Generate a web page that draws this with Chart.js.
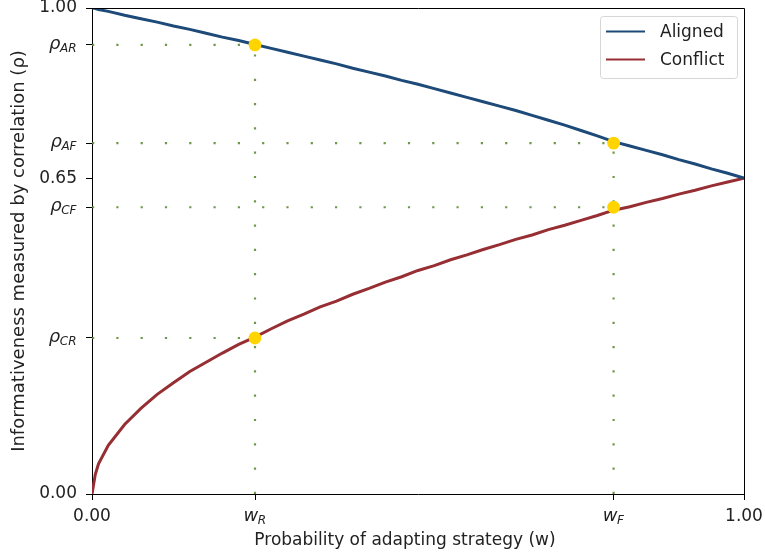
<!DOCTYPE html>
<html>
<head>
<meta charset="utf-8">
<script src="https://cdn.jsdelivr.net/npm/chart.js@4.4.1/dist/chart.umd.min.js"></script>
<style>
  html, body { margin: 0; padding: 0; background: #fff; }
  #wrap { position: relative; width: 765px; height: 557px; }
</style>
</head>
<body>
<div id="wrap"><canvas id="c" width="765" height="557"></canvas></div>
<script>
// ---- data ----
const wValues = [0, 0.005, 0.01, 0.025, 0.05, 0.075, 0.1, 0.125, 0.15, 0.175, 0.2, 0.225, 0.25, 0.275, 0.3, 0.325, 0.35, 0.375, 0.4, 0.425, 0.45, 0.475, 0.5, 0.525, 0.55, 0.575, 0.6, 0.625, 0.65, 0.675, 0.7, 0.725, 0.75, 0.775, 0.8, 0.825, 0.85, 0.875, 0.9, 0.925, 0.95, 0.975, 1.0];
const alignedRho = [1.000, 0.999, 0.997, 0.993, 0.985, 0.978, 0.971, 0.963, 0.956, 0.948, 0.940, 0.933, 0.925, 0.917, 0.909, 0.901, 0.893, 0.885, 0.876, 0.868, 0.860, 0.851, 0.843, 0.834, 0.825, 0.816, 0.807, 0.798, 0.789, 0.779, 0.769, 0.759, 0.748, 0.737, 0.725, 0.716, 0.707, 0.698, 0.688, 0.679, 0.669, 0.660, 0.650];
const conflictRho = [0.000, 0.040, 0.062, 0.100, 0.143, 0.176, 0.205, 0.229, 0.252, 0.271, 0.290, 0.308, 0.323, 0.340, 0.356, 0.370, 0.385, 0.397, 0.411, 0.423, 0.436, 0.447, 0.460, 0.470, 0.482, 0.492, 0.503, 0.513, 0.524, 0.533, 0.544, 0.553, 0.563, 0.573, 0.584, 0.591, 0.600, 0.608, 0.617, 0.625, 0.634, 0.642, 0.650];

// marked points (w, rho)
const markW   = [0.25, 0.80, 0.80, 0.25];
const markRho = [0.924, 0.722, 0.590, 0.321];

// ticks
const xTickValues = [0, 0.25, 0.80, 1.0];
const xTickLabels = ['0.00', 'w_R', 'w_F', '1.00'];
const yTickValues = [0, 0.321, 0.590, 0.65, 0.722, 0.924, 1.0];
const yTickLabels = ['0.00', 'ρ_CR', 'ρ_CF', '0.65', 'ρ_AF', 'ρ_AR', '1.00'];

const xTitle = 'Probability of adapting strategy (w)';
const yTitle = 'Informativeness measured by correlation (ρ)';
const seriesNames = ['Aligned', 'Conflict'];
const seriesColors = ['#1d4a78', '#962e33'];
const FONT = "'DejaVu Sans', sans-serif";
const TEXT = '#222';

// ---- build datasets ----
const toPts = (xs, ys) => xs.map((x, i) => ({ x: x, y: ys[i] }));
const guideColor = 'rgba(95,140,55,0.9)';
const guides = [];
for (let i = 0; i < markW.length; i++) {
  guides.push([{ x: 0, y: markRho[i] }, { x: markW[i], y: markRho[i] }]);
}
[0.25, 0.80].forEach(w => {
  const top = Math.max(...markRho.filter((r, i) => markW[i] === w));
  guides.push([{ x: w, y: 0 }, { x: w, y: top }]);
});

const datasets = [];
guides.forEach(g => datasets.push({
  label: '_guide', data: g, borderColor: guideColor, borderWidth: 2.2,
  borderDash: [2.2, 22.1], borderCapStyle: 'butt', pointRadius: 0, fill: false, order: 3
}));
datasets.push({
  label: seriesNames[0], data: toPts(wValues, alignedRho), borderColor: seriesColors[0],
  borderWidth: 3, pointRadius: 0, tension: 0, fill: false, order: 2
});
datasets.push({
  label: seriesNames[1], data: toPts(wValues, conflictRho), borderColor: seriesColors[1],
  borderWidth: 3, pointRadius: 0, tension: 0, fill: false, order: 2
});
datasets.push({
  label: '_marks', data: toPts(markW, markRho), showLine: false,
  pointRadius: 6.4, pointBackgroundColor: '#ffd400', pointBorderWidth: 0, order: 1
});

// draw a tick label; "ρ_AR" style labels get a real italic subscript
function drawLabel(ctx, text, x, yMid, align) {
  ctx.fillStyle = TEXT;
  ctx.textBaseline = 'middle';
  if (text.indexOf('_') < 0) {
    ctx.font = "17px " + FONT;
    ctx.textAlign = align;
    ctx.fillText(text, x, yMid);
    return;
  }
  const parts = text.split('_');
  const base = parts[0], sub = parts[1];
  const fBase = "italic 18px " + FONT;
  const fSub = "italic 12px " + FONT;
  ctx.font = fBase; const wb = ctx.measureText(base).width;
  ctx.font = fSub; const ws = ctx.measureText(sub).width;
  const total = wb + ws;
  const x0 = align === 'right' ? x - total : (align === 'center' ? x - total / 2 : x);
  ctx.textAlign = 'left';
  ctx.textBaseline = 'alphabetic';
  ctx.font = fBase; ctx.fillText(base, x0, yMid + 4);
  ctx.font = fSub; ctx.fillText(sub, x0 + wb - 0.5, yMid + 7);
}

const decor = {
  id: 'decor',
  afterDraw(chart) {
    const ctx = chart.ctx, a = chart.chartArea;
    const xs = chart.scales.x, ys = chart.scales.y;
    ctx.save();
    // frame top/right
    ctx.strokeStyle = '#000'; ctx.lineWidth = 1;
    ctx.beginPath();
    ctx.moveTo(a.left, a.top + 0.5); ctx.lineTo(a.right + 0.5, a.top + 0.5); ctx.lineTo(a.right + 0.5, a.bottom);
    ctx.stroke();
    // tick labels
    yTickValues.forEach((v, i) => drawLabel(ctx, yTickLabels[i], a.left - 15, ys.getPixelForValue(v), 'right'));
    xTickValues.forEach((v, i) => drawLabel(ctx, xTickLabels[i], xs.getPixelForValue(v), a.bottom + 23, 'center'));
    // x axis title
    ctx.fillStyle = TEXT; ctx.font = "17px " + FONT;
    ctx.textAlign = 'center'; ctx.textBaseline = 'middle';
    ctx.fillText(xTitle, 405, 541);
    // legend
    const lx = 600, ly = 16, lw = 137, lh = 62;
    ctx.fillStyle = 'rgba(255,255,255,0.85)';
    ctx.strokeStyle = '#d6d6d6'; ctx.lineWidth = 1;
    ctx.beginPath();
    ctx.roundRect(lx + 0.5, ly + 0.5, lw, lh, 3);
    ctx.fill(); ctx.stroke();
    ctx.font = "17px " + FONT; ctx.textBaseline = 'middle'; ctx.textAlign = 'left';
    seriesNames.forEach((n, i) => {
      const yy = ly + 15.5 + i * 28;
      ctx.strokeStyle = seriesColors[i]; ctx.lineWidth = 2.2;
      ctx.beginPath(); ctx.moveTo(606, yy); ctx.lineTo(645, yy); ctx.stroke();
      ctx.fillStyle = TEXT;
      ctx.fillText(n, 660, yy + 1);
    });
    ctx.restore();
  }
};

new Chart(document.getElementById('c'), {
  type: 'line',
  data: { datasets: datasets },
  options: {
    responsive: false,
    animation: false,
    layout: { padding: { left: 0, right: 21, top: 8, bottom: 0 } },
    plugins: { legend: { display: false }, tooltip: { enabled: false } },
    scales: {
      x: {
        type: 'linear', min: 0, max: 1,
        afterBuildTicks: s => { s.ticks = xTickValues.map(v => ({ value: v })); },
        afterFit: s => { s.height = 63; },
        ticks: { display: false },
        grid: { drawOnChartArea: false, drawTicks: true, tickLength: 6, tickColor: '#000' },
        border: { color: '#000', width: 1 },
        title: { display: false }
      },
      y: {
        type: 'linear', min: 0, max: 1,
        afterBuildTicks: s => { s.ticks = yTickValues.map(v => ({ value: v })); },
        afterFit: s => { s.width = 92; },
        ticks: { display: false },
        grid: { drawOnChartArea: false, drawTicks: true, tickLength: 6, tickColor: '#000' },
        border: { color: '#000', width: 1 },
        title: { display: true, text: yTitle, color: TEXT,
                 font: { family: FONT, size: 18 }, padding: { top: 9, bottom: 0 } }
      }
    }
  },
  plugins: [decor]
});
</script>
</body>
</html>
